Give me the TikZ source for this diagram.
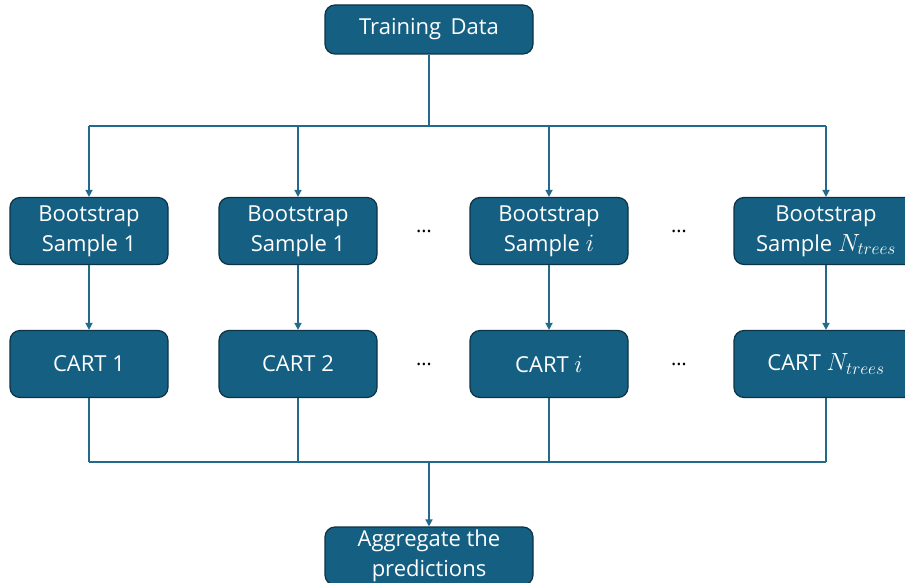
\documentclass[tikz,border=0pt]{standalone}
\usepackage{fontspec}
\setmainfont{Open Sans}
\usetikzlibrary{arrows.meta,positioning}
\definecolor{boxfill}{HTML}{156082}
\definecolor{boxline}{HTML}{0D3345}
\definecolor{wire}{HTML}{22698C}
\newcommand{\symb}[1]{{\fontsize{25}{30}\selectfont$#1$}}
\tikzset{
  blk/.style={draw=boxline,line width=1.2pt,fill=boxfill,rounded corners=10pt,
    text=white,align=center,font=\fontsize{22}{30}\selectfont,
    minimum width=158pt,minimum height=67pt,inner sep=2pt},
  wirearrow/.style={draw=wire,line width=1.6pt,-{Triangle[length=7pt,width=7pt]}},
  dots/.style={font=\fontsize{20}{24}\selectfont}
}
\begin{document}
\begin{tikzpicture}[x=1pt,y=-1pt]
\useasboundingbox (0,0) rectangle (905,583);
\node[blk,minimum width=208pt,minimum height=49pt] (td) at (429,29.5) {Training\, Data};
\node[blk] (bs1) at (89,231) {Bootstrap\\Sample 1};
\node[blk] (bs2) at (298,231) {Bootstrap\\Sample 1};
\node[blk] (bs3) at (549,231) {Bootstrap\\Sample \symb{i}};
\node[blk,minimum width=184pt] (bs4) at (826,231) {Bootstrap\\Sample \symb{N_{trees}}};
\node[blk] (ct1) at (89,364) {CART 1};
\node[blk] (ct2) at (298,364) {CART 2};
\node[blk] (ct3) at (549,364) {CART \symb{i}};
\node[blk,minimum width=184pt] (ct4) at (826,364) {CART \symb{N_{trees}}};
\node[blk,minimum width=208pt,minimum height=58pt] (agg) at (429,556) {Aggregate the\\predictions};
% dots between the columns
\node[dots] (d1) at (424,231) {\dots};
\node[dots] (d2) at (679,231) {\dots};
\node[dots] (d3) at (424,364) {\dots};
\node[dots] (d4) at (679,364) {\dots};
\coordinate (topbus) at (429,126);
\coordinate (botbus) at (429,462);
% fan out
\draw[wire,line width=1.6pt] (td) -- (topbus);
\draw[wire,line width=1.6pt] (bs1.north |- topbus) -- (bs4.north |- topbus);
\foreach \i in {1,...,4}{
  \draw[wirearrow] (bs\i.north |- topbus) -- (bs\i);
  \draw[wirearrow] (bs\i) -- (ct\i);
  \draw[wire,line width=1.6pt] (ct\i) -- (ct\i.south |- botbus);
}
% collect
\draw[wire,line width=1.6pt] (ct1.south |- botbus) -- (ct4.south |- botbus);
\draw[wirearrow] (botbus) -- (agg);
\end{tikzpicture}
\end{document}
